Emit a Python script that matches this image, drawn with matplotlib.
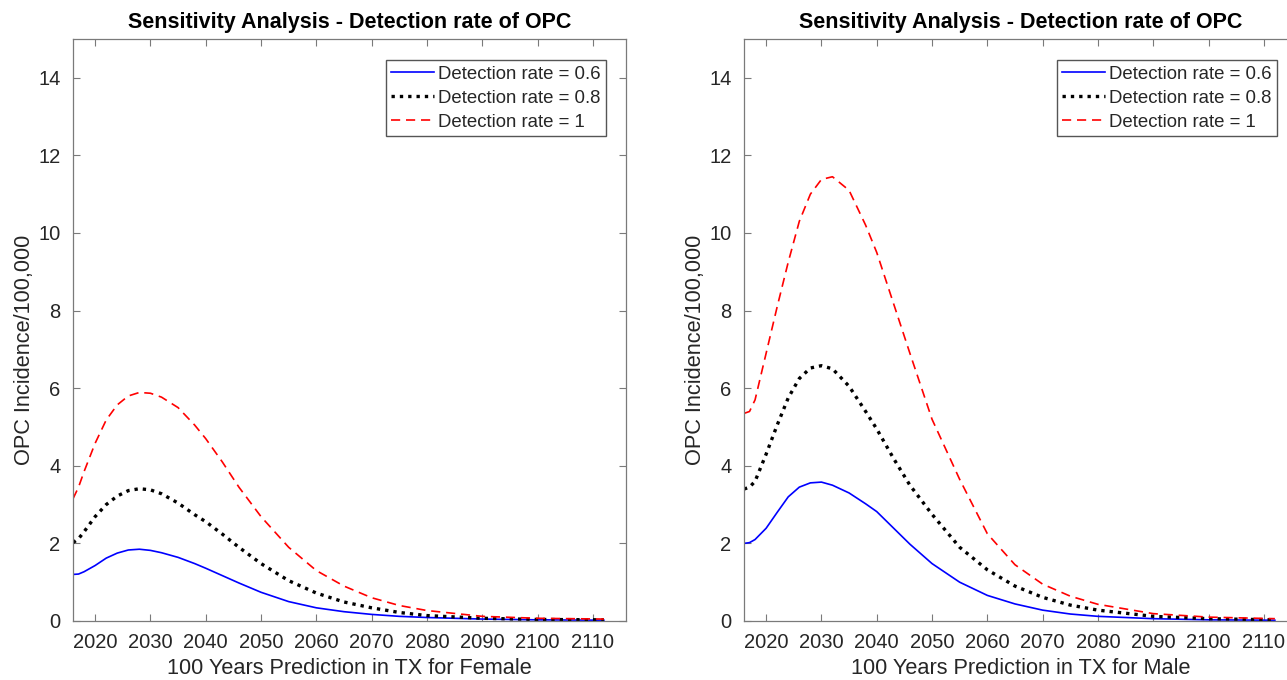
import matplotlib
matplotlib.use("Agg")
import matplotlib.pyplot as plt

plt.rcParams['font.family'] = ['Liberation Sans', 'DejaVu Sans']

# years sampled along the curves
years = [2016, 2017, 2018, 2020, 2022, 2024, 2026, 2028, 2030, 2032, 2035, 2038,
         2040, 2043, 2046, 2050, 2055, 2060, 2065, 2070, 2075, 2080, 2090, 2100, 2112]

# Female
fem_06 = [1.20, 1.21, 1.27, 1.43, 1.62, 1.75, 1.83, 1.85, 1.82, 1.76, 1.64, 1.48,
          1.36, 1.17, 0.98, 0.74, 0.50, 0.34, 0.24, 0.17, 0.12, 0.09, 0.05, 0.03, 0.02]
fem_08 = [2.02, 2.12, 2.30, 2.69, 3.00, 3.22, 3.36, 3.41, 3.38, 3.28, 3.04, 2.74,
          2.56, 2.24, 1.90, 1.48, 1.04, 0.72, 0.49, 0.34, 0.22, 0.14, 0.07, 0.04, 0.03]
fem_10 = [3.15, 3.45, 3.85, 4.58, 5.18, 5.57, 5.80, 5.89, 5.87, 5.77, 5.50, 5.05,
          4.70, 4.10, 3.45, 2.69, 1.90, 1.30, 0.90, 0.60, 0.40, 0.27, 0.12, 0.07, 0.05]

# Male
male_06 = [2.00, 2.02, 2.10, 2.39, 2.80, 3.20, 3.45, 3.56, 3.58, 3.50, 3.30, 3.02,
           2.82, 2.40, 1.98, 1.48, 1.00, 0.66, 0.44, 0.28, 0.18, 0.12, 0.06, 0.03, 0.02]
male_08 = [3.40, 3.45, 3.60, 4.30, 5.05, 5.75, 6.25, 6.52, 6.58, 6.50, 6.05, 5.40,
           4.95, 4.20, 3.50, 2.75, 1.90, 1.32, 0.90, 0.61, 0.41, 0.28, 0.12, 0.06, 0.03]
male_10 = [5.35, 5.40, 5.70, 6.90, 8.10, 9.25, 10.30, 11.00, 11.38, 11.45, 11.10, 10.20,
           9.50, 8.20, 6.90, 5.20, 3.65, 2.25, 1.45, 0.95, 0.64, 0.43, 0.19, 0.10, 0.06]

labels = ['Detection rate = 0.6', 'Detection rate = 0.8', 'Detection rate = 1']
xlabels = ['100 Years Prediction in TX for Female', '100 Years Prediction in TX for Male']
xticks = list(range(2020, 2111, 10))
yticks = list(range(0, 15, 2))

W, H = 1287, 680
fig = plt.figure(figsize=(W / 100, H / 100), dpi=100)

axes_px = [73, 744]
ax_w, ax_top, ax_bot = 553, 39, 621

txt = '#262626'
edge = '#7a7a7a'

data = [(fem_06, fem_08, fem_10), (male_06, male_08, male_10)]
for i, (s06, s08, s10) in enumerate(data):
    ax = fig.add_axes([axes_px[i] / W, (H - ax_bot) / H, ax_w / W, (ax_bot - ax_top) / H])
    ax.plot(years, s06, color='#0000ff', lw=1.2, label=labels[0])
    ax.plot(years, s08, color='black', lw=2.4, linestyle=(0, (1, 1.5)), label=labels[1])
    ax.plot(years, s10, color='#ff0000', lw=1.2, linestyle=(0, (5.5, 3.5)), label=labels[2])
    ax.set_xlim(2016, 2116)
    ax.set_ylim(0, 15)
    ax.set_xticks(xticks)
    ax.set_yticks(yticks)
    ax.tick_params(direction='in', length=5, width=0.8, color=edge, labelcolor=txt,
                   labelsize=14.5, top=True, right=True, pad=9)
    for sp in ax.spines.values():
        sp.set_color(edge)
        sp.set_linewidth(0.9)
    ax.set_title('Sensitivity Analysis - Detection rate of OPC', fontsize=15.5,
                 fontweight='bold', pad=8)
    ax.set_xlabel(xlabels[i], fontsize=15.7, color=txt, labelpad=4)
    ax.set_ylabel('OPC Incidence/100,000', fontsize=15.7, color=txt)
    ax.yaxis.set_label_coords(-0.068, 0.465)
    leg = ax.legend(loc='upper right', bbox_to_anchor=(1 - 20 / ax_w, 1 - 21 / (ax_bot - ax_top)),
                    borderaxespad=0, fontsize=13.4, handlelength=2.3, handletextpad=0.2,
                    labelspacing=0.38, borderpad=0.3, fancybox=False, framealpha=1)
    leg.get_frame().set_edgecolor('#555555')
    leg.get_frame().set_linewidth(1.0)
    for t in leg.get_texts():
        t.set_color(txt)

fig.savefig('out.png', dpi=100)
